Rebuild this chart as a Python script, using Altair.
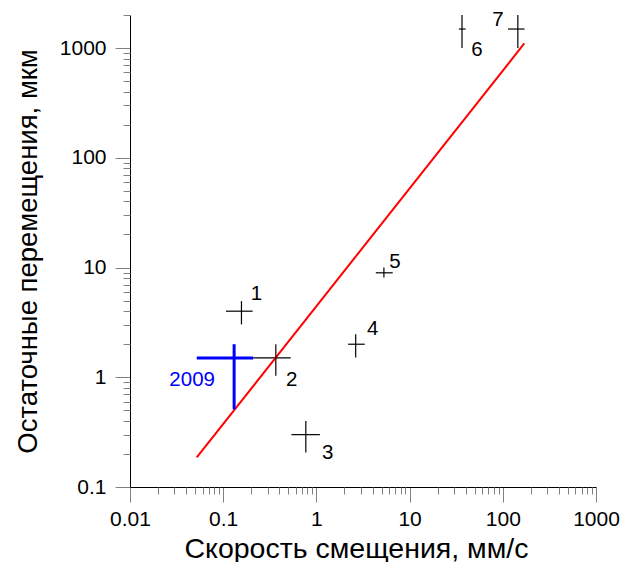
import altair as alt
import pandas as pd

FONT = "Liberation Sans"

# measured points (centre + cross extents)
labels = ["1", "2", "3", "4", "5", "6", "7"]
xc = [0.157, 0.367, 0.77, 2.64, 5.3, 36.5, 145]
yc = [4.0, 1.5, 0.30, 2.0, 8.95, 1490, 1490]
xlo = [0.107, 0.21, 0.54, 2.19, 4.34, 33.8, 113.5]
xhi = [0.207, 0.53, 1.09, 3.30, 6.59, 39.9, 171]
ylo = [3.03, 1.03, 0.206, 1.51, 8.11, 1000, 1000]
yhi = [4.94, 2.0, 0.40, 2.46, 10.0, 2000, 2000]

# 2009 estimate (blue cross)
b_label = ["2009"]
b_x = [0.131]
b_y = [1.5]
b_xlo = [0.052]
b_xhi = [0.21]
b_ylo = [0.51]
b_yhi = [2.0]

# regression line end points
fit_x = [0.052, 170]
fit_y = [0.186, 1100]

x_major = [0.01, 0.1, 1, 10, 100, 1000]
y_major = [0.1, 1, 10, 100, 1000]
x_minor = [m * d for d in [0.01, 0.1, 1, 10, 100] for m in range(2, 10)]
y_minor = [m * d for d in [0.1, 1, 10, 100] for m in range(2, 10)] + [2000]

pts = pd.DataFrame(dict(label=labels, x=xc, y=yc, xlo=xlo, xhi=xhi, ylo=ylo, yhi=yhi))
blue = pd.DataFrame(dict(label=b_label, x=b_x, y=b_y, xlo=b_xlo, xhi=b_xhi, ylo=b_ylo, yhi=b_yhi))
fit = pd.DataFrame(dict(x=fit_x, y=fit_y))

xscale = alt.Scale(type="log", domain=[0.01, 1000], nice=False)
yscale = alt.Scale(type="log", domain=[0.1, 2000], nice=False)

axis_common = dict(labelFont=FONT, titleFont=FONT, labelColor="black", titleColor="black",
                   domainColor="black", tickColor="#808080", grid=False,
                   titleFontWeight="normal")

x_axis_major = alt.Axis(values=x_major, tickSize=15, labelFontSize=21, labelPadding=6,
                        title="Скорость смещения, мм/с", titleFontSize=28.5, titlePadding=5,
                        titleX=226, labelExpr="datum.value >= 1 ? format(datum.value, 'd') : format(datum.value, '')",
                        orient="bottom", labelFlush=False, **axis_common)
y_axis_major = alt.Axis(values=y_major, tickSize=15, labelFontSize=21, labelPadding=9,
                        title="Остаточные перемещения, мкм", titleFontSize=27.5, titlePadding=17,
                        labelExpr="datum.value >= 1 ? format(datum.value, 'd') : format(datum.value, '')",
                        orient="left", labelFlush=False, **axis_common)
x_axis_minor = alt.Axis(values=x_minor, tickSize=7, labels=False, title=None, domain=False,
                        orient="bottom", tickColor="#808080", grid=False)
y_axis_minor = alt.Axis(values=y_minor, tickSize=7, labels=False, title=None, domain=False,
                        orient="left", tickColor="#808080", grid=False)

base = alt.Chart(pts)

hlines = base.mark_rule(color="black", strokeWidth=1.2).encode(
    x=alt.X("xlo:Q", scale=xscale, axis=x_axis_major),
    x2="xhi:Q",
    y=alt.Y("y:Q", scale=yscale, axis=y_axis_major),
)
vlines = base.mark_rule(color="black", strokeWidth=1.2).encode(
    x=alt.X("x:Q", scale=xscale, axis=None),
    y=alt.Y("ylo:Q", scale=yscale, axis=None),
    y2="yhi:Q",
)

line = alt.Chart(fit).mark_line(color="#ff0000", strokeWidth=2).encode(
    x=alt.X("x:Q", scale=xscale, axis=x_axis_minor),
    y=alt.Y("y:Q", scale=yscale, axis=y_axis_minor),
)

bh = alt.Chart(blue).mark_rule(color="#0000ff", strokeWidth=3).encode(
    x=alt.X("xlo:Q", scale=xscale, axis=None), x2="xhi:Q",
    y=alt.Y("y:Q", scale=yscale, axis=None),
)
bv = alt.Chart(blue).mark_rule(color="#0000ff", strokeWidth=3).encode(
    x=alt.X("x:Q", scale=xscale, axis=None),
    y=alt.Y("ylo:Q", scale=yscale, axis=None), y2="yhi:Q",
)
btext = alt.Chart(blue).mark_text(color="#0000ff", font=FONT, fontSize=20.5, dx=-42, dy=22,
                                  align="center", baseline="middle").encode(
    x=alt.X("x:Q", scale=xscale, axis=None),
    y=alt.Y("y:Q", scale=yscale, axis=None),
    text="label:N",
)

offsets = {"1": (15, -17), "2": (16, 22), "3": (22, 18), "4": (17, -15),
           "5": (11, -11), "6": (15, 21), "7": (-20, -9)}
texts = []
for lab, (dx, dy) in offsets.items():
    texts.append(base.transform_filter(alt.datum.label == lab).mark_text(
        font=FONT, fontSize=20.5, color="black", dx=dx, dy=dy, align="center", baseline="middle"
    ).encode(
        x=alt.X("x:Q", scale=xscale, axis=None),
        y=alt.Y("y:Q", scale=yscale, axis=None),
        text="label:N",
    ))

chart = alt.layer(hlines, line, vlines, bh, bv, btext, *texts).resolve_axis(
    x="independent", y="independent"
).properties(
    width=466, height=472,
    autosize=alt.AutoSizeParams(type="none"),
    padding={"left": 122, "top": 7, "right": 26, "bottom": 75},
).configure_view(stroke=None)

chart.save("out.html", embed_options={"renderer": "svg", "actions": False})
